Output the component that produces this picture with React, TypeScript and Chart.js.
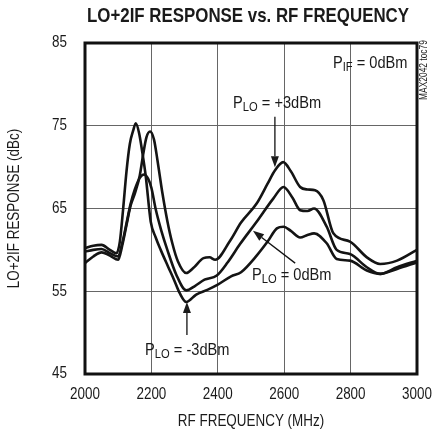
import React, { useEffect, useRef } from 'react';
import { Chart, registerables } from 'chart.js';

Chart.register(...registerables);

const FONT = '"Liberation Sans", Arial, sans-serif';
const SQ = 0.84; // horizontal squeeze to mimic a condensed face

// P_LO = -3dBm
const xM3 = [2000, 2025, 2050, 2075, 2095, 2105, 2115, 2125, 2135, 2145, 2153, 2163, 2173, 2183, 2198, 2213, 2228, 2250, 2268, 2285, 2305, 2335, 2370, 2400, 2440, 2470, 2517, 2550, 2578, 2598, 2620, 2648, 2670, 2690, 2728, 2758, 2798, 2849, 2889, 2940, 3000];
const yM3 = [60.2, 60.5, 60.6, 60.0, 59.6, 61.0, 65.0, 69.5, 72.8, 74.4, 75.3, 74.1, 71.7, 68.9, 63.4, 61.5, 60.0, 58.0, 56.4, 54.8, 53.7, 54.6, 55.2, 55.8, 56.8, 57.3, 59.3, 61.0, 62.6, 62.8, 62.3, 61.5, 61.8, 62.0, 60.8, 58.9, 58.7, 57.5, 57.1, 57.7, 58.5];

// P_LO = 0dBm
const x0 = [2000, 2025, 2050, 2075, 2100, 2112, 2125, 2137, 2150, 2165, 2178, 2190, 2200, 2213, 2230, 2248, 2275, 2305, 2330, 2360, 2397, 2430, 2467, 2517, 2567, 2598, 2625, 2648, 2670, 2690, 2728, 2758, 2798, 2849, 2889, 2940, 3000];
const y0 = [59.8, 60.0, 60.1, 59.6, 59.2, 60.8, 63.2, 65.5, 67.3, 68.7, 69.1, 68.6, 67.5, 64.9, 62.3, 60.0, 57.0, 55.1, 55.6, 56.4, 56.9, 58.5, 60.7, 63.4, 66.2, 67.6, 66.3, 64.8, 64.7, 65.0, 62.8, 60.0, 59.5, 57.9, 57.1, 57.9, 58.7];

// P_LO = +3dBm
const xP3 = [2000, 2025, 2050, 2075, 2100, 2112, 2125, 2137, 2150, 2165, 2175, 2185, 2196, 2208, 2218, 2233, 2248, 2263, 2280, 2305, 2326, 2357, 2375, 2392, 2437, 2470, 2517, 2550, 2572, 2597, 2620, 2648, 2670, 2693, 2718, 2748, 2798, 2849, 2889, 2940, 3000];
const yP3 = [58.4, 59.2, 59.7, 59.3, 58.8, 60.5, 63.0, 65.3, 66.8, 69.0, 71.5, 73.6, 74.3, 73.3, 70.9, 66.9, 63.5, 60.8, 58.6, 57.2, 57.8, 59.0, 59.1, 58.8, 61.1, 63.3, 65.6, 68.0, 69.6, 70.6, 69.5, 67.6, 67.3, 67.2, 66.0, 62.0, 61.0, 59.1, 58.3, 58.7, 60.0];

const xTickValues = [2000, 2200, 2400, 2600, 2800, 3000];
const yTickValues = [45, 55, 65, 75, 85];

const titleText = 'LO+2IF RESPONSE vs. RF FREQUENCY';
const xTitle = 'RF FREQUENCY (MHz)';
const yTitle = 'LO+2IF RESPONSE (dBc)';
const tocText = 'MAX2042 toc79';

// annotation labels: [x(MHz), y(dBc) baseline, main, sub, rest]
const labels: [number, number, string, string, string][] = [
  [2747, 82.0, 'P', 'IF', ' = 0dBm'],
  [2446, 77.15, 'P', 'LO', ' = +3dBm'],
  [2503, 56.4, 'P', 'LO', ' = 0dBm'],
  [2181, 47.3, 'P', 'LO', ' = -3dBm'],
];
// arrows: [x1, y1, x2(tip), y2(tip)]
const arrows: [number, number, number, number][] = [
  [2572, 76.1, 2572, 70.0],
  [2633, 58.4, 2506, 62.3],
  [2307, 49.7, 2307, 53.7],
];

const toXY = (xs: number[], ys: number[]) => xs.map((x, i) => ({ x, y: ys[i] }));

// draws text squeezed horizontally; align: 'left' | 'center' | 'right'; returns advanced width
function sqText(ctx: any, text: string, x: number, y: number, size: number, align: string, bold = false, sq = SQ) {
  ctx.save();
  ctx.font = `${bold ? 'bold ' : ''}${size}px ${FONT}`;
  const w = ctx.measureText(text).width * sq;
  let left = x;
  if (align === 'center') left = x - w / 2;
  else if (align === 'right') left = x - w;
  ctx.translate(left, y);
  ctx.scale(sq, 1);
  ctx.textAlign = 'left';
  ctx.fillText(text, 0, 0);
  ctx.restore();
  return w;
}

const overlay = {
  id: 'overlay',
  afterDraw(chart: any) {
    const { ctx, chartArea: a, scales } = chart;
    const sx = scales.x;
    const sy = scales.y;
    ctx.save();
    // frame
    ctx.strokeStyle = '#111';
    ctx.lineWidth = 3;
    ctx.strokeRect(a.left, a.top, a.right - a.left, a.bottom - a.top);

    ctx.fillStyle = '#1a1a1a';
    ctx.textBaseline = 'middle';
    // title (fit to its width in the reference)
    ctx.font = `bold 21px ${FONT}`;
    const tw = ctx.measureText(titleText).width;
    sqText(ctx, titleText, 248, 16, 21, 'center', true, 322 / tw);

    // tick labels
    for (const v of xTickValues) sqText(ctx, String(v), sx.getPixelForValue(v), 395, 16, 'center');
    for (const v of yTickValues) sqText(ctx, String(v), 67, sy.getPixelForValue(v), 16, 'right');

    // axis titles
    sqText(ctx, xTitle, (a.left + a.right) / 2, 422, 16, 'center');
    ctx.save();
    ctx.translate(15, (a.top + a.bottom) / 2);
    ctx.rotate(-Math.PI / 2);
    sqText(ctx, yTitle, 0, 0, 16, 'center');
    ctx.restore();

    // toc
    ctx.save();
    ctx.translate(a.right + 7, 70);
    ctx.rotate(-Math.PI / 2);
    sqText(ctx, tocText, 0, 0, 10, 'center');
    ctx.restore();

    // labels
    ctx.textBaseline = 'alphabetic';
    for (const [lx, ly, m, s, r] of labels) {
      let px = sx.getPixelForValue(lx);
      const py = sy.getPixelForValue(ly);
      px += sqText(ctx, m, px, py, 17, 'left', false, 0.86);
      px += sqText(ctx, s, px, py + 3, 13, 'left', false, 0.86);
      sqText(ctx, r, px, py, 17, 'left', false, 0.86);
    }

    // arrows
    ctx.strokeStyle = '#111';
    ctx.lineWidth = 1.3;
    for (const [x1, y1, x2, y2] of arrows) {
      const p1x = sx.getPixelForValue(x1);
      const p1y = sy.getPixelForValue(y1);
      const p2x = sx.getPixelForValue(x2);
      const p2y = sy.getPixelForValue(y2);
      const ang = Math.atan2(p2y - p1y, p2x - p1x);
      const hl = 11;
      const hw = 4;
      const bx = p2x - hl * Math.cos(ang);
      const by = p2y - hl * Math.sin(ang);
      ctx.beginPath();
      ctx.moveTo(p1x, p1y);
      ctx.lineTo(bx, by);
      ctx.stroke();
      ctx.beginPath();
      ctx.moveTo(p2x, p2y);
      ctx.lineTo(bx + hw * Math.sin(ang), by - hw * Math.cos(ang));
      ctx.lineTo(bx - hw * Math.sin(ang), by + hw * Math.cos(ang));
      ctx.closePath();
      ctx.fill();
    }
    ctx.restore();
  },
};

export default function App() {
  const ref = useRef<HTMLCanvasElement | null>(null);
  useEffect(() => {
    document.body.style.margin = '0';
    const canvas = ref.current;
    if (!canvas) return;
    const common = {
      borderColor: '#141414',
      borderWidth: 2.6,
      pointRadius: 0,
      fill: false,
      cubicInterpolationMode: 'monotone' as const,
    };
    const chart = new Chart(canvas, {
      type: 'line',
      data: {
        datasets: [
          { label: 'PLO = -3dBm', data: toXY(xM3, yM3), ...common },
          { label: 'PLO = 0dBm', data: toXY(x0, y0), ...common },
          { label: 'PLO = +3dBm', data: toXY(xP3, yP3), ...common },
        ],
      },
      options: {
        animation: false,
        responsive: false,
        devicePixelRatio: 1,
        layout: { padding: { top: 43, left: 0, right: 15, bottom: 0 } },
        plugins: { legend: { display: false }, title: { display: false }, tooltip: { enabled: false } },
        scales: {
          x: {
            type: 'linear',
            min: 2000,
            max: 3000,
            afterFit: (s: any) => { s.height = 64; s.paddingLeft = 0; s.paddingRight = 0; },
            ticks: { stepSize: 200, display: false },
            grid: { color: '#666', lineWidth: 1, drawTicks: false },
            border: { display: false },
          },
          y: {
            type: 'linear',
            min: 45,
            max: 85,
            afterFit: (s: any) => { s.width = 85; s.paddingTop = 0; s.paddingBottom = 0; },
            ticks: { stepSize: 10, display: false },
            grid: { color: '#666', lineWidth: 1, drawTicks: false },
            border: { display: false },
          },
        },
      },
      plugins: [overlay],
    });
    return () => chart.destroy();
  }, []);
  return (
    <div style={{ position: 'absolute', left: 0, top: 0, width: 432, height: 438, background: '#fff' }}>
      <canvas ref={ref} width={432} height={438} style={{ display: 'block' }} />
    </div>
  );
}
